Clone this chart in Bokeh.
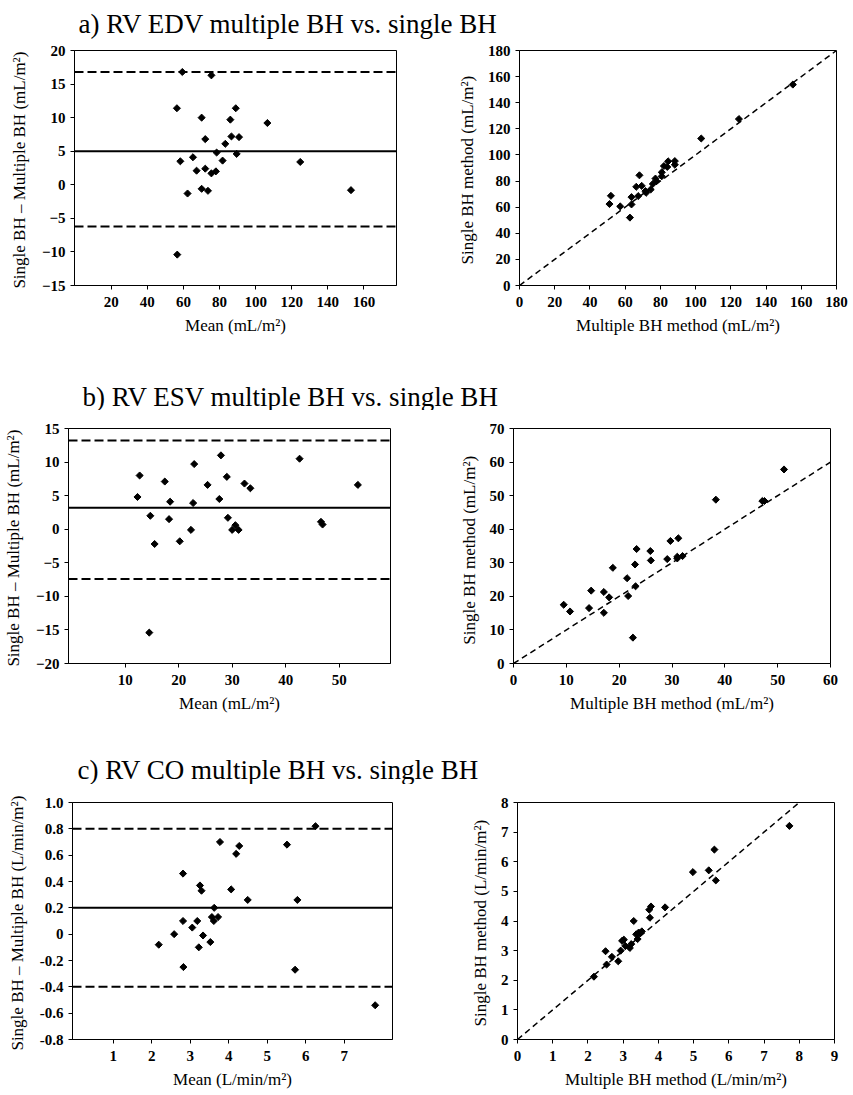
from bokeh.plotting import figure
from bokeh.layouts import column, row
from bokeh.models import Range1d, FixedTicker, Span
from bokeh.core.properties import value
from bokeh.embed import file_html
from bokeh.resources import INLINE

SERIF = "Liberation Serif"

# ---------------- data ----------------
titles = ["a) RV EDV multiple BH vs. single BH",
          "b) RV ESV multiple BH vs. single BH",
          "c) RV CO multiple BH vs. single BH"]

# a) EDV Bland-Altman
a_mean = [59.4, 75.5, 56.4, 89.0, 70.1, 86.0, 106.5, 72.1, 86.6, 90.8, 83.2, 78.4, 89.5,
          65.3, 58.3, 81.7, 124.7, 72.1, 67.3, 78.0, 75.5, 70.1, 73.6, 62.3, 152.8, 56.6]
a_diff = [16.8, 16.3, 11.4, 11.4, 10.0, 9.7, 9.2, 6.8, 7.2, 7.1, 6.1, 4.8, 4.6,
          4.1, 3.5, 3.6, 3.4, 2.4, 2.1, 2.0, 1.7, -0.6, -0.9, -1.3, -0.8, -10.4]
a_bias, a_upper, a_lower = 5.0, 16.8, -6.2
# a) EDV scatter
a_multi = [155.2, 124.6, 103.2, 84.4, 88.2, 88.2, 82.0, 83.9, 80.8, 80.8, 77.2, 77.8, 68.1,
           75.7, 69.4, 66.3, 74.5, 71.5, 71.9, 67.4, 63.6, 51.9, 51.1, 63.6, 57.2, 62.7]
a_single = [153.9, 127.5, 112.6, 95.1, 95.3, 92.5, 91.5, 90.8, 86.7, 83.7, 81.9, 79.9, 84.4,
            77.8, 76.3, 75.6, 73.5, 72.3, 71.0, 68.5, 67.7, 68.7, 62.4, 62.1, 60.6, 52.0]

# b) ESV Bland-Altman
b_mean = [12.7, 12.3, 14.7, 15.5, 14.5, 17.4, 18.4, 18.2, 20.2, 22.9, 22.7, 22.3, 25.4,
          27.9, 27.6, 29.0, 29.2, 30.0, 30.6, 31.2, 32.3, 33.4, 42.6, 46.6, 46.9, 53.5]
b_diff = [8.0, 4.8, 2.0, -2.2, -15.4, 7.1, 4.1, 1.5, -1.8, 9.7, 3.9, -0.1, 6.6,
          11.0, 4.5, 7.8, 1.7, -0.1, 0.6, -0.1, 6.8, 6.1, 10.5, 1.1, 0.7, 6.6]
b_bias, b_upper, b_lower = 3.2, 13.2, -7.4
# b) ESV scatter
b_multi = [51.2, 38.3, 47.1, 47.5, 29.7, 31.2, 23.3, 25.9, 26.0, 29.1, 31.0, 31.0, 32.0,
           23.0, 18.8, 21.5, 23.1, 21.7, 14.7, 17.1, 18.1, 14.3, 17.1, 9.5, 10.7, 22.6]
b_single = [57.8, 48.8, 48.4, 48.4, 36.5, 37.3, 34.1, 33.5, 30.7, 31.1, 31.3, 31.8, 32.0,
            29.5, 28.5, 25.4, 23.0, 20.1, 21.7, 21.3, 19.7, 16.5, 15.1, 17.5, 15.5, 7.7]

# c) CO Bland-Altman
c_mean = [6.25, 3.77, 4.27, 5.51, 4.19, 2.81, 3.25, 3.29, 4.06, 4.49, 5.78, 3.62, 3.56,
          3.72, 3.61, 2.81, 3.18, 3.05, 2.58, 3.33, 3.52, 2.18, 3.22, 2.82, 5.72, 7.80]
c_diff = [0.82, 0.70, 0.67, 0.68, 0.61, 0.46, 0.37, 0.33, 0.34, 0.26, 0.26, 0.20, 0.13,
          0.13, 0.10, 0.10, 0.10, 0.05, 0.00, -0.01, -0.06, -0.08, -0.10, -0.25, -0.27, -0.54]
c_bias, c_upper, c_lower = 0.2, 0.8, -0.4
# c) CO scatter
c_multi = [7.72, 5.59, 4.98, 5.43, 5.63, 4.19, 3.79, 3.74, 3.76, 3.30, 3.53, 3.44, 3.37,
           3.41, 3.02, 2.97, 3.23, 3.06, 3.19, 2.93, 2.50, 2.68, 2.86, 2.53, 2.17, 3.48]
c_single = [7.21, 6.41, 5.65, 5.71, 5.37, 4.46, 4.49, 4.38, 4.11, 4.00, 3.65, 3.61, 3.55,
            3.39, 3.37, 3.33, 3.22, 3.16, 3.09, 3.00, 2.98, 2.79, 2.64, 2.53, 2.12, 3.58]

# axes
a_left_xticks = [20, 40, 60, 80, 100, 120, 140, 160]
a_left_yticks = [-15, -10, -5, 0, 5, 10, 15, 20]
a_right_ticks = [0, 20, 40, 60, 80, 100, 120, 140, 160, 180]
b_left_xticks = [10, 20, 30, 40, 50]
b_left_yticks = [-20, -15, -10, -5, 0, 5, 10, 15]
b_right_xticks = [0, 10, 20, 30, 40, 50, 60]
b_right_yticks = [0, 10, 20, 30, 40, 50, 60, 70]
c_left_xticks = [1, 2, 3, 4, 5, 6, 7]
c_left_yticks = [-0.8, -0.6, -0.4, -0.2, 0, 0.2, 0.4, 0.6, 0.8, 1.0]
c_left_ylabels = {-0.8: "-0.8", -0.6: "-0.6", -0.4: "-0.4", -0.2: "-0.2", 0: "0",
                  0.2: "0.2", 0.4: "0.4", 0.6: "0.6", 0.8: "0.8", 1.0: "1.0"}
c_right_xticks = [0, 1, 2, 3, 4, 5, 6, 7, 8, 9]
c_right_yticks = [0, 1, 2, 3, 4, 5, 6, 7, 8]

a_diag = [0, 180]
b_diag = [0, 70]
c_diag = [0, 9]

W_LEFT, W_RIGHT = 430, 423


def title_fig(text, h, tx, ty):
    p = figure(width=W_LEFT + W_RIGHT, height=h, output_backend="svg", toolbar_location=None,
               x_range=Range1d(0, W_LEFT + W_RIGHT), y_range=Range1d(0, h),
               min_border=0, outline_line_color=None)
    p.axis.visible = False
    p.grid.visible = False
    p.text(x=[tx], y=[ty], text=[text], text_font=value(SERIF), text_font_size="27px",
           text_color="black", text_baseline="alphabetic", text_align="left")
    return p


def panel(w, h, bl, br, bt, bb, xr, yr, xticks, yticks, xlabel, ylabel,
          ylab_standoff=10, yoverrides=None):
    p = figure(width=w, height=h, output_backend="svg", toolbar_location=None,
               x_range=Range1d(*xr), y_range=Range1d(*yr),
               min_border_left=bl, min_border_right=br, min_border_top=bt,
               min_border_bottom=bb, outline_line_color="black", outline_line_width=1)
    p.grid.visible = False
    for ax in (p.xaxis[0], p.yaxis[0]):
        ax.major_tick_in = 0
        ax.major_tick_out = 4
        ax.minor_tick_line_color = None
        ax.axis_line_color = "black"
        ax.major_tick_line_color = "black"
        ax.major_label_text_font = SERIF
        ax.major_label_text_font_style = "bold"
        ax.major_label_text_font_size = "15px"
        ax.major_label_text_color = "black"
        ax.axis_label_text_font = SERIF
        ax.axis_label_text_font_style = "normal"
        ax.axis_label_text_font_size = "17px"
        ax.axis_label_text_color = "black"
    p.xaxis.ticker = FixedTicker(ticks=xticks)
    p.yaxis.ticker = FixedTicker(ticks=yticks)
    p.xaxis.major_label_standoff = 7
    p.xaxis.axis_label_standoff = 6
    p.yaxis.major_label_standoff = 5
    p.yaxis.axis_label_standoff = ylab_standoff
    p.xaxis.axis_label = xlabel
    p.yaxis.axis_label = ylabel
    if yoverrides:
        p.yaxis.major_label_overrides = yoverrides
    return p


def bland(p, xs, ys, bias, up, lo):
    p.add_layout(Span(location=bias, dimension="width", line_color="black", line_width=2))
    for loc in (up, lo):
        p.add_layout(Span(location=loc, dimension="width", line_color="black",
                          line_width=2, line_dash="9 4"))
    p.scatter(xs, ys, marker="square", angle=0.785398, size=5, color="black")


def ident(p, diag, xs, ys):
    p.line(diag, diag, line_color="black", line_width=1.5, line_dash="6 4")
    p.scatter(xs, ys, marker="square", angle=0.785398, size=5, color="black")


lab_diff_ml = "Single  BH \u2013 Multiple BH (mL/m\u00b2)"
lab_diff_co = "Single  BH \u2013 Multiple BH (L/min/m\u00b2)"

# row A  (page y 40-370)
pa1 = panel(W_LEFT, 330, 74, 34, 9, 85, (-0.3, 178), (-15, 20), a_left_xticks, a_left_yticks,
            "Mean (mL/m\u00b2)", lab_diff_ml)
bland(pa1, a_mean, a_diff, a_bias, a_upper, a_lower)
pa2 = panel(W_RIGHT, 330, 89, 17, 10, 83, (0, 180), (0, 180), a_right_ticks, a_right_ticks,
            "Multiple BH method (mL/m\u00b2)", "Single  BH method (mL/m\u00b2)", ylab_standoff=8)
ident(pa2, a_diag, a_multi, a_single)

# row B  (page y 410-742)
pb1 = panel(W_LEFT, 332, 68, 40, 18, 79, (-0.6, 59.6), (-20, 15), b_left_xticks, b_left_yticks,
            "Mean (mL/m\u00b2)", lab_diff_ml)
bland(pb1, b_mean, b_diff, b_bias, b_upper, b_lower)
pb2 = panel(W_RIGHT, 332, 83, 23, 18, 78, (0, 60), (0, 70), b_right_xticks, b_right_yticks,
            "Multiple BH method (mL/m\u00b2)", "Single  BH method  (mL/m\u00b2)", ylab_standoff=8)
ident(pb2, b_diag, b_multi, b_single)

# row C  (page y 784-1094)
pc1 = panel(W_LEFT, 310, 72, 38, 18, 55, (-0.06, 8.25), (-0.8, 1.0), c_left_xticks, c_left_yticks,
            "Mean (L/min/m\u00b2)", lab_diff_co, yoverrides=c_left_ylabels)
bland(pc1, c_mean, c_diff, c_bias, c_upper, c_lower)
pc2 = panel(W_RIGHT, 310, 87, 19, 17, 51, (0, 9), (0, 8), c_right_xticks, c_right_yticks,
            "Multiple BH method (L/min/m\u00b2)", "Single  BH method (L/min/m\u00b2)", ylab_standoff=8)
ident(pc2, c_diag, c_multi, c_single)

ta = title_fig(titles[0], 40, 78, 17)
tb = title_fig(titles[1], 40, 82, 14)
tc = title_fig(titles[2], 42, 77, 15)

layout = column(ta, row(pa1, pa2), tb, row(pb1, pb2), tc, row(pc1, pc2))

open("out.html", "w").write(file_html(layout, INLINE))
